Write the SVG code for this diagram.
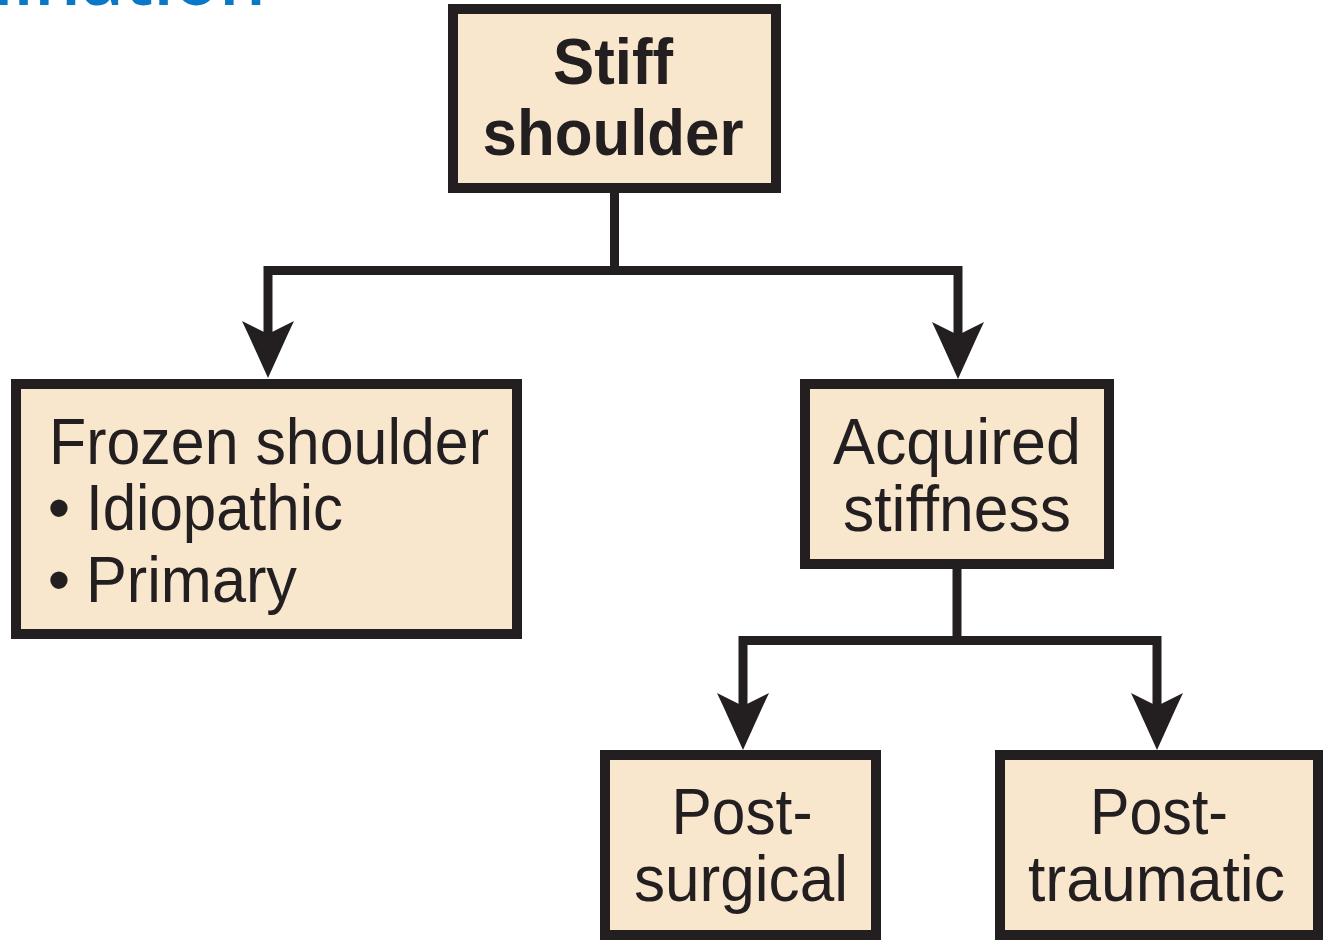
<svg xmlns="http://www.w3.org/2000/svg" width="1325" height="940" viewBox="0 0 1325 940">
  <style>
    .box { fill: #f8e6cd; stroke: #231f20; stroke-width: 10; }
    .t { font-family: "Liberation Sans", Arial, sans-serif; font-size: 64px; fill: #231f20; }
    .b { font-weight: bold; }
    .c { text-anchor: middle; }
    .ln { fill: none; stroke: #231f20; stroke-width: 9; stroke-linejoin: miter; stroke-linecap: butt; }
    .ah { fill: #231f20; }
    .head { font-family: "Open Sans", "Liberation Sans", sans-serif; font-size: 74px; font-weight: 600; fill: #0a78c8; text-anchor: end; }
  </style>
  <defs>
    <path id="arrow" class="ah" d="M0,0 L-19,-42 L-26,-57 L0,-44 L26,-57 L19,-42 Z"/>
  </defs>
  <rect width="1325" height="940" fill="#ffffff"/>

  <text class="head" x="266" y="5">Examination</text>

  <g id="connectors">
    <path class="ln" d="M614.5,190 V270.5"/>
    <path class="ln" d="M268,340 V270.5 H958 V340"/>
    <use href="#arrow" x="268" y="378"/>
    <use href="#arrow" x="958" y="379"/>
    <path class="ln" d="M957,566 V640.5"/>
    <path class="ln" d="M743,710 V640.5 H1157 V710"/>
    <use href="#arrow" x="743" y="750"/>
    <use href="#arrow" x="1157" y="750"/>
  </g>

  <g id="node-stiff-shoulder">
    <rect class="box" x="453" y="9" width="323" height="179"/>
    <text class="t b c" x="613" y="84" textLength="120" lengthAdjust="spacingAndGlyphs">Stiff</text>
    <text class="t b c" x="613" y="155" textLength="261" lengthAdjust="spacingAndGlyphs">shoulder</text>
  </g>

  <g id="node-frozen-shoulder">
    <rect class="box" x="16" y="384" width="501" height="250"/>
    <text class="t" x="49" y="464" textLength="440" lengthAdjust="spacingAndGlyphs">Frozen shoulder</text>
    <text class="t c" x="59" y="530">•</text>
    <text class="t" x="86" y="530" textLength="257" lengthAdjust="spacingAndGlyphs">Idiopathic</text>
    <text class="t c" x="59" y="602">•</text>
    <text class="t" x="86" y="602" textLength="211" lengthAdjust="spacingAndGlyphs">Primary</text>
  </g>

  <g id="node-acquired-stiffness">
    <rect class="box" x="805" y="384" width="304" height="180"/>
    <text class="t c" x="957" y="464" textLength="248" lengthAdjust="spacingAndGlyphs">Acquired</text>
    <text class="t c" x="957" y="531" textLength="228" lengthAdjust="spacingAndGlyphs">stiffness</text>
  </g>

  <g id="node-post-surgical">
    <rect class="box" x="605" y="755" width="271" height="180"/>
    <text class="t c" x="742" y="834" textLength="141" lengthAdjust="spacingAndGlyphs">Post-</text>
    <text class="t c" x="741" y="901" textLength="214" lengthAdjust="spacingAndGlyphs">surgical</text>
  </g>

  <g id="node-post-traumatic">
    <rect class="box" x="1000" y="755" width="318" height="180"/>
    <text class="t c" x="1159" y="834" textLength="138" lengthAdjust="spacingAndGlyphs">Post-</text>
    <text class="t c" x="1156.5" y="901" textLength="257" lengthAdjust="spacingAndGlyphs">traumatic</text>
  </g>
</svg>
